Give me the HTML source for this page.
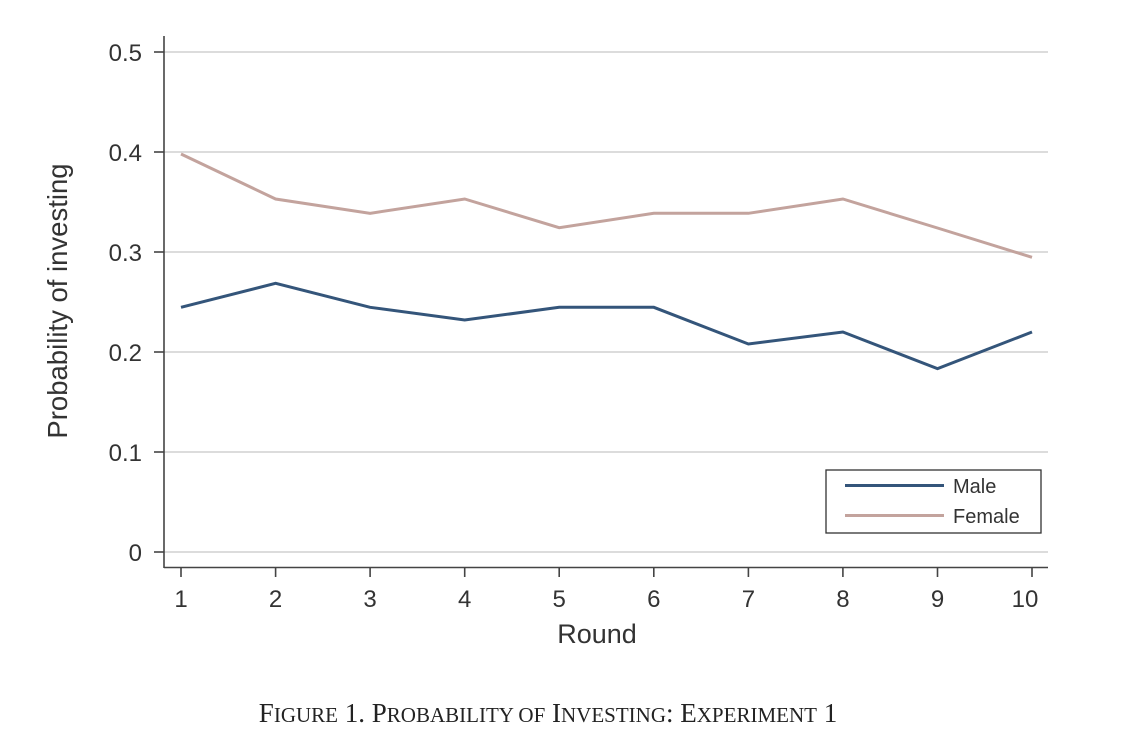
<!DOCTYPE html>
<html><head><meta charset="utf-8"><style>
html,body{margin:0;padding:0;background:#fff;}
svg{display:block;}
text{font-family:"Liberation Sans",Arial,sans-serif;fill:#333;}
.cap{font-family:"Liberation Serif","Times New Roman",serif;fill:#222;}
</style></head><body>
<svg width="1127" height="744" viewBox="0 0 1127 744" xmlns="http://www.w3.org/2000/svg">
<rect width="1127" height="744" fill="#fff"/>
<!-- gridlines -->
<g stroke="#d0d0d0" stroke-width="1.5">
<line x1="164" y1="52" x2="1048" y2="52"/>
<line x1="164" y1="152" x2="1048" y2="152"/>
<line x1="164" y1="252" x2="1048" y2="252"/>
<line x1="164" y1="352" x2="1048" y2="352"/>
<line x1="164" y1="452" x2="1048" y2="452"/>
<line x1="164" y1="552" x2="1048" y2="552"/>
</g>
<!-- axes -->
<g stroke="#444" stroke-width="1.6" fill="none">
<line x1="164" y1="36" x2="164" y2="568"/>
<line x1="164" y1="567.5" x2="1048" y2="567.5"/>
<line x1="154" y1="52" x2="164" y2="52"/>
<line x1="154" y1="152" x2="164" y2="152"/>
<line x1="154" y1="252" x2="164" y2="252"/>
<line x1="154" y1="352" x2="164" y2="352"/>
<line x1="154" y1="452" x2="164" y2="452"/>
<line x1="154" y1="552" x2="164" y2="552"/>
<line x1="181" y1="567" x2="181" y2="577"/>
<line x1="275.6" y1="567" x2="275.6" y2="577"/>
<line x1="370.1" y1="567" x2="370.1" y2="577"/>
<line x1="464.7" y1="567" x2="464.7" y2="577"/>
<line x1="559.2" y1="567" x2="559.2" y2="577"/>
<line x1="653.8" y1="567" x2="653.8" y2="577"/>
<line x1="748.4" y1="567" x2="748.4" y2="577"/>
<line x1="842.9" y1="567" x2="842.9" y2="577"/>
<line x1="937.5" y1="567" x2="937.5" y2="577"/>
<line x1="1032" y1="567" x2="1032" y2="577"/>
</g>
<!-- y tick labels -->
<g font-size="24" text-anchor="end">
<text x="142" y="61">0.5</text>
<text x="142" y="161">0.4</text>
<text x="142" y="261">0.3</text>
<text x="142" y="361">0.2</text>
<text x="142" y="461">0.1</text>
<text x="142" y="561">0</text>
</g>
<!-- x tick labels -->
<g font-size="24" text-anchor="middle">
<text x="181" y="607">1</text>
<text x="275.6" y="607">2</text>
<text x="370.1" y="607">3</text>
<text x="464.7" y="607">4</text>
<text x="559.2" y="607">5</text>
<text x="653.8" y="607">6</text>
<text x="748.4" y="607">7</text>
<text x="842.9" y="607">8</text>
<text x="937.5" y="607">9</text>
<text x="1025" y="607">10</text>
</g>
<!-- axis titles -->
<text x="597" y="643" font-size="27" text-anchor="middle">Round</text>
<text transform="translate(67,301) rotate(-90)" font-size="27.5" text-anchor="middle">Probability of investing</text>
<!-- series -->
<polyline fill="none" stroke="#c3a39d" stroke-width="3" stroke-linejoin="miter"
 points="181,154 275.6,199 370.1,213.3 464.7,199 559.2,227.7 653.8,213.3 748.4,213.3 842.9,199 937.5,228 1032,257.3"/>
<polyline fill="none" stroke="#34557a" stroke-width="3" stroke-linejoin="miter"
 points="181,307.3 275.6,283.3 370.1,307.3 464.7,320 559.2,307.3 653.8,307.3 748.4,344 842.9,332 937.5,368.7 1032,332"/>
<!-- legend -->
<rect x="826" y="470" width="215" height="63" fill="#fff" stroke="#333" stroke-width="1.3"/>
<line x1="845" y1="485.5" x2="944" y2="485.5" stroke="#34557a" stroke-width="3"/>
<line x1="845" y1="515.5" x2="944" y2="515.5" stroke="#c3a39d" stroke-width="3"/>
<text x="953" y="493" font-size="20">Male</text>
<text x="953" y="523" font-size="20">Female</text>
<!-- caption -->
<text class="cap" x="548" y="722" font-size="27" text-anchor="middle">F<tspan font-size="21">IGURE</tspan> 1. P<tspan font-size="21">ROBABILITY OF</tspan> I<tspan font-size="21">NVESTING</tspan>: E<tspan font-size="21">XPERIMENT</tspan> 1</text>
</svg>
</body></html>
